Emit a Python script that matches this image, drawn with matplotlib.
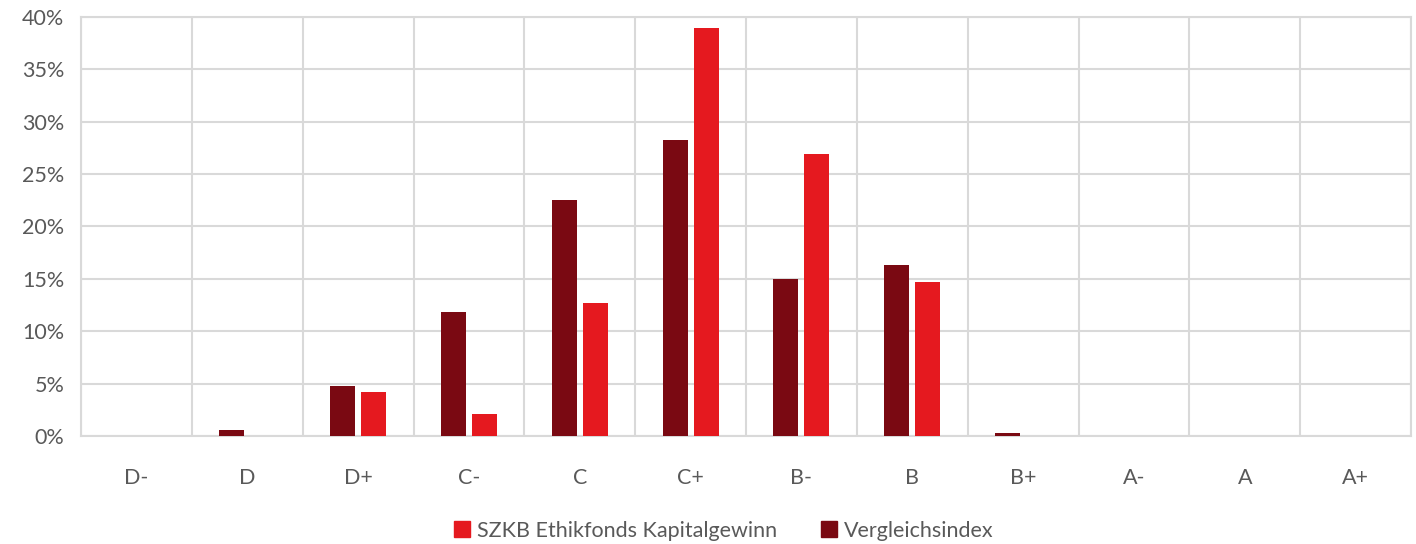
import numpy as np
import matplotlib.pyplot as plt
from matplotlib.ticker import FuncFormatter
from matplotlib.lines import Line2D

ratings = ["D-", "D", "D+", "C-", "C", "C+", "B-", "B", "B+", "A-", "A", "A+"]
fonds = [0.0, 0.0, 4.2, 2.1, 12.7, 38.9, 26.9, 14.7, 0.0, 0.0, 0.0, 0.0]
index = [0.0, 0.6, 4.8, 11.8, 22.5, 28.3, 15.0, 16.3, 0.3, 0.0, 0.0, 0.0]

red = "#e5191f"
dark = "#7a0912"
grid = "#d9d9d9"
txt = "#595959"

plt.rcParams["font.family"] = ["Lato", "DejaVu Sans"]

fig = plt.figure(figsize=(14.16, 5.44), dpi=100)
ax = fig.add_axes([0.0572, 0.1985, 0.9393, 0.7703])

x = np.arange(len(ratings))
w = 0.225
off = 0.14
ax.bar(x - off, index, w, color=dark, zorder=3)
ax.bar(x + off, fonds, w, color=red, zorder=3)

ax.set_xlim(-0.5, len(ratings) - 0.5)
ax.set_ylim(0, 40)
ax.set_yticks(np.arange(0, 41, 5))
ax.yaxis.set_major_formatter(FuncFormatter(lambda v, p: f"{int(v)}%"))
ax.set_xticks(x)
ax.set_xticklabels(ratings)
ax.set_xticks(np.arange(-0.5, len(ratings), 1), minor=True)

ax.grid(axis="y", which="major", color=grid, lw=1.5, zorder=0)
ax.grid(axis="x", which="minor", color=grid, lw=1.5, zorder=0)
ax.grid(axis="x", which="major", visible=False)
for s in ax.spines.values():
    s.set_color(grid)
    s.set_linewidth(1.5)

ax.tick_params(axis="both", which="both", length=0, labelsize=15.5, colors=txt)
ax.tick_params(axis="x", pad=23)
ax.tick_params(axis="y", pad=12)

handles = [
    Line2D([], [], marker="s", ls="", color=red, markersize=12),
    Line2D([], [], marker="s", ls="", color=dark, markersize=12),
]
leg = fig.legend(handles, ["SZKB Ethikfonds Kapitalgewinn", "Vergleichsindex"],
                 loc="center", bbox_to_anchor=(0.51, 0.024), ncol=2, frameon=False,
                 fontsize=15.5, handletextpad=0.2, columnspacing=1.9,
                 handlelength=1.0)
for t in leg.get_texts():
    t.set_color(txt)

fig.savefig("out.png", dpi=100)
